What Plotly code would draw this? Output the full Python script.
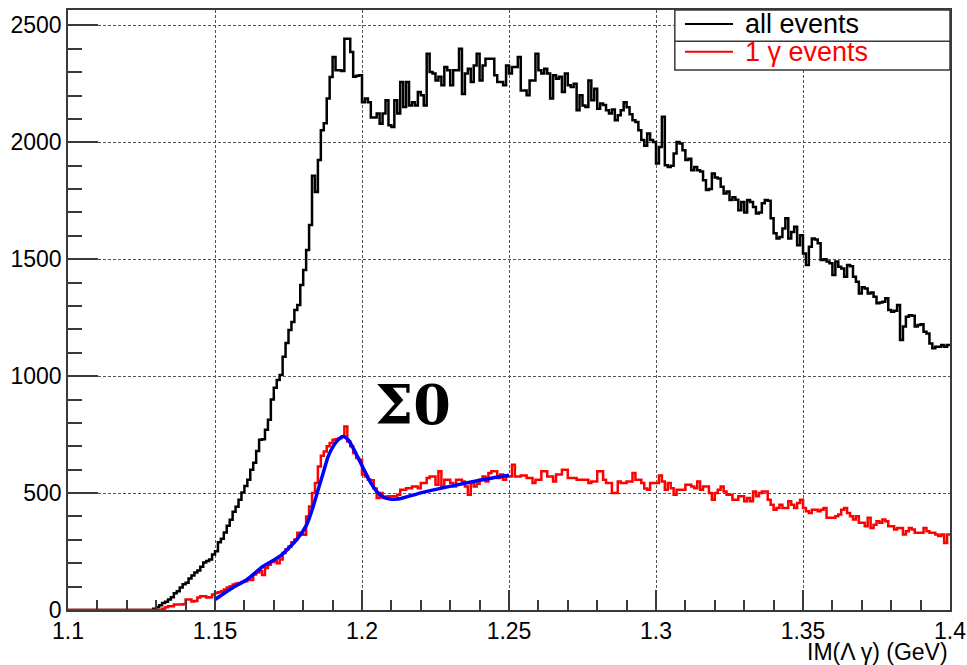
import plotly.graph_objects as go

# Histogram binning: 300 bins of 1 MeV between 1.1 and 1.4 GeV
x_min = 1.1
bin_width = 0.001
n_bins = 300

# Invariant mass M(Lambda gamma), all events (counts per bin)
all_events = [0] * 29 + [
    5, 12, 20, 30, 35, 45, 55, 72, 80, 96, 110, 117, 135, 148, 160, 169, 185, 203, 210, 216, 237,
    251, 290, 305, 331, 360, 386, 420, 442, 472, 502, 530, 557, 600, 630, 680, 728, 730, 771, 814, 900,
    950, 984, 1005, 1083, 1142, 1198, 1232, 1283, 1304, 1390, 1454, 1540, 1646, 1857, 1788, 1924, 2052, 2082, 2188, 2279,
    2365, 2308, 2308, 2305, 2443, 2443, 2386, 2280, 2285, 2287,
    2172, 2187, 2172, 2106, 2106, 2123, 2080, 2123, 2180, 2073,
    2066, 2180, 2123, 2258, 2151, 2258, 2158, 2172, 2158, 2215,
    2201, 2158, 2379, 2301, 2294, 2265, 2280, 2244, 2322, 2308,
    2244, 2308, 2308, 2400, 2207, 2294, 2315, 2258, 2329, 2379,
    2265, 2329, 2358, 2358, 2358, 2287, 2258, 2258, 2244, 2329,
    2294, 2322, 2322, 2365, 2222, 2222, 2201, 2265, 2265, 2379,
    2308, 2294, 2315, 2294, 2187, 2287, 2272, 2280, 2215, 2294,
    2244, 2237, 2251, 2137, 2201, 2158, 2151, 2265, 2180, 2229,
    2144, 2166, 2160, 2137, 2123, 2140, 2094, 2116, 2137, 2172,
    2150, 2120, 2095, 2087, 2052, 2010, 1985, 2038, 2010, 2002,
    1910, 1980, 2109, 1902, 1895, 1900, 1952, 2002, 1995, 1966,
    1924, 1930, 1881, 1895, 1881, 1875, 1838, 1796, 1800, 1867,
    1850, 1845, 1810, 1781, 1790, 1753, 1765, 1755, 1710, 1745,
    1700, 1753, 1745, 1724, 1696, 1700, 1740, 1753, 1750, 1675,
    1611, 1589, 1595, 1632, 1675, 1589, 1617, 1639, 1560, 1603,
    1525, 1475, 1553, 1589, 1585, 1568, 1497, 1500, 1490, 1483,
    1433, 1490, 1468, 1461, 1425, 1475, 1470, 1425, 1404, 1354,
    1380, 1375, 1354, 1358, 1340, 1312, 1315, 1318, 1333, 1283,
    1276, 1280, 1304, 1155, 1212, 1254, 1261, 1258, 1212, 1219,
    1222, 1190, 1183, 1140, 1119, 1126, 1126, 1133, 1126, 1133,
]

# Events with exactly one photon
one_gamma_events = [0] * 32 + [
    5, 12, 16, 16, 23, 23, 23, 25,
    45, 45, 36, 38, 53, 59, 59, 53, 55, 66,
    73, 76, 80, 88, 96, 102, 109, 113, 116, 120,
    123, 130, 128, 152, 160, 166, 150, 180, 194, 205,
    208, 200, 216, 244, 260, 272, 290, 301, 330, 325,
    322, 400, 443, 500, 543, 614, 660, 678, 700, 714,
    728, 730, 735, 742, 785, 721, 700, 671, 650, 643,
    579, 571, 557, 555, 520, 479, 500, 479, 485, 486,
    486, 486, 493, 514, 514, 521, 521, 528, 528, 521,
    543, 543, 564, 571, 571, 536, 593, 528, 557, 557,
    543, 528, 557, 557, 550, 528, 493, 543, 528, 540,
    557, 571, 550, 586, 593, 593, 564, 579, 557, 571,
    571, 621, 571, 571, 575, 575, 564, 564, 543, 557,
    557, 593, 593, 571, 571, 550, 579, 579, 600, 600,
    564, 564, 564, 557, 557, 557, 557, 543, 550, 550,
    593, 593, 557, 543, 543, 500, 500, 550, 543, 543,
    550, 550, 586, 557, 557, 543, 520, 514, 543, 543,
    543, 575, 550, 514, 543, 521, 493, 514, 514, 514,
    536, 536, 528, 521, 550, 514, 528, 528, 500, 472,
    500, 514, 528, 507, 493, 493, 472, 472, 486, 486,
    465, 479, 465, 507, 486, 500, 507, 507, 472, 450,
    429, 436, 450, 436, 436, 465, 450, 436, 458, 472,
    436, 422, 415, 429, 429, 422, 429, 436, 394, 394,
    394, 401, 408, 429, 436, 415, 401, 387, 401, 373,
    373, 358, 394, 351, 365, 380, 373, 387, 380, 358,
    358, 344, 351, 351, 323, 337, 351, 344, 330, 330,
    330, 351, 337, 330, 330, 323, 316, 323, 287, 323,
]

# Sigma0 peak fit over the one-photon sample (sampled curve, 1.15 - 1.25 GeV)
fit_x = [1.1500, 1.1551, 1.1608, 1.1664, 1.1721, 1.1778, 1.1812, 1.1834, 1.1851, 1.1868,
         1.1885, 1.1902, 1.1919, 1.1936, 1.1953, 1.1970, 1.1987, 1.2004, 1.2027, 1.2050,
         1.2072, 1.2095, 1.2110, 1.2129, 1.2197, 1.2311, 1.2424, 1.2500]
fit_y = [45, 88, 130, 187, 230, 301, 365, 443, 515, 586,
         657, 700, 728, 742, 728, 692, 650, 607, 550, 507,
         483, 475, 474, 476, 500, 532, 560, 576]

x_ticks = [1.1, 1.15, 1.2, 1.25, 1.3, 1.35, 1.4]
x_tick_text = ["1.1", "1.15", "1.2", "1.25", "1.3", "1.35", "1.4"]
y_ticks = [0, 500, 1000, 1500, 2000, 2500]
y_tick_text = ["0", "500", "1000", "1500", "2000", "2500"]

legend_labels = ["all events", "1 \u03b3 events"]
peak_label = "\u03a30"


def step_xy(values):
    """Bin edges and contents laid out for an 'hv' step line."""
    edges = [round(x_min + i * bin_width, 6) for i in range(len(values) + 1)]
    return edges, list(values) + [values[-1]]


fig = go.Figure()

bx, by = step_xy(all_events)
fig.add_trace(go.Scatter(x=bx, y=by, mode="lines", line=dict(color="black", width=2.5, shape="hv"),
                         name=legend_labels[0], showlegend=False, hoverinfo="skip"))

rx, ry = step_xy(one_gamma_events)
fig.add_trace(go.Scatter(x=rx, y=ry, mode="lines", line=dict(color="#ff0000", width=2.5, shape="hv"),
                         name=legend_labels[1], showlegend=False, hoverinfo="skip"))

fig.add_trace(go.Scatter(x=fit_x, y=fit_y, mode="lines",
                         line=dict(color="#0000ff", width=3.5, shape="spline", smoothing=0.6),
                         showlegend=False, hoverinfo="skip"))

axis_color = "#3a3a3a"
grid_color = "#555555"
tick_font = dict(family="Liberation Sans, Arial, sans-serif", size=23, color="black")

fig.update_xaxes(
    range=[1.1, 1.4], tickmode="array", tickvals=x_ticks, ticktext=x_tick_text,
    ticks="inside", ticklen=20, tickwidth=1.5, tickcolor=axis_color,
    minor=dict(dtick=0.01, ticks="inside", ticklen=10, tickwidth=1.5, tickcolor=axis_color, showgrid=False),
    showline=True, linecolor=axis_color, linewidth=1.5, mirror=True,
    showgrid=True, gridcolor=grid_color, gridwidth=1, griddash="3px,2px",
    zeroline=False, tickfont=tick_font, automargin=False,
)
fig.update_yaxes(
    range=[0, 2566], tickmode="array", tickvals=y_ticks, ticktext=y_tick_text,
    ticks="inside", ticklen=30, tickwidth=1.5, tickcolor=axis_color,
    minor=dict(dtick=100, ticks="inside", ticklen=14, tickwidth=1.5, tickcolor=axis_color, showgrid=False),
    showline=True, linecolor=axis_color, linewidth=1.5, mirror=True,
    showgrid=True, gridcolor=grid_color, gridwidth=1, griddash="3px,2px",
    zeroline=False, tickfont=tick_font, automargin=False,
)

# Legend box with a divider between the two entries
legend_shapes = [
    dict(type="rect", xref="paper", yref="paper", x0=0.688, x1=1.0, y0=0.90, y1=1.0,
         line=dict(color=axis_color, width=1.5), fillcolor="white", layer="above"),
    dict(type="line", xref="paper", yref="paper", x0=0.688, x1=1.0, y0=0.948, y1=0.948,
         line=dict(color=axis_color, width=1.5), layer="above"),
    dict(type="line", xref="paper", yref="paper", x0=0.6995, x1=0.754, y0=0.9767, y1=0.9767,
         line=dict(color="black", width=2), layer="above"),
    dict(type="line", xref="paper", yref="paper", x0=0.6995, x1=0.754, y0=0.9305, y1=0.9305,
         line=dict(color="#ff0000", width=2), layer="above"),
]
fig.update_layout(shapes=legend_shapes)

legend_font = "Liberation Sans, Arial, sans-serif"
fig.add_annotation(xref="paper", yref="paper", x=0.765, y=0.9767, text=legend_labels[0],
                   showarrow=False, xanchor="left", yanchor="middle",
                   font=dict(family=legend_font, size=27, color="black"))
fig.add_annotation(xref="paper", yref="paper", x=0.765, y=0.9305, text=legend_labels[1],
                   showarrow=False, xanchor="left", yanchor="middle",
                   font=dict(family=legend_font, size=27, color="#ff0000"))

# Axis title, right-aligned under the x axis
fig.add_annotation(xref="paper", yref="paper", x=1.0, y=-0.07, text="IM(\u039b \u03b3) (GeV)",
                   showarrow=False, xanchor="right", yanchor="middle",
                   font=dict(family=legend_font, size=23, color="black"))

# Peak label
fig.add_annotation(x=1.2173, y=876, text="<b>" + peak_label + "</b>", showarrow=False,
                   xanchor="center", yanchor="middle",
                   font=dict(family="DejaVu Serif, serif", size=54, color="black"))

fig.update_layout(
    width=967, height=665,
    margin=dict(l=68, r=17, t=10, b=55),
    paper_bgcolor="white", plot_bgcolor="white",
    showlegend=False,
)

fig.write_html("out.html")
